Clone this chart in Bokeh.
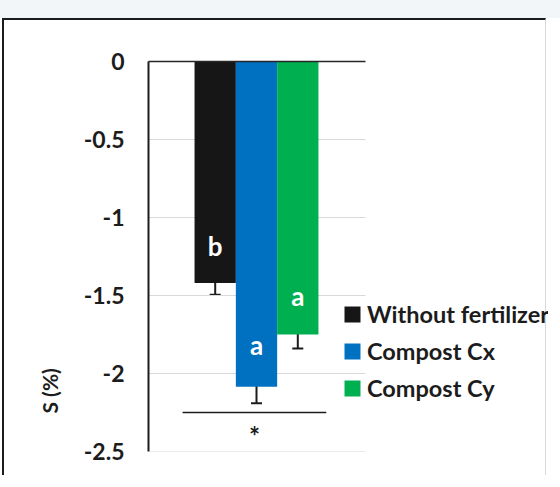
from bokeh.plotting import figure
from bokeh.models import (ColumnDataSource, Range1d, FixedTicker, Whisker, TeeHead,
                          Legend, LegendItem, Title, GlobalInlineStyleSheet)
from bokeh.core.properties import value
from bokeh.embed import file_html
from bokeh.resources import INLINE

# ---- data ----
groups = ["Without fertilizer", "Compost Cx", "Compost Cy"]
means = [-1.42, -2.085, -1.75]
errors = [0.075, 0.105, 0.09]
letters = ["b", "a", "a"]
colors = ["#161616", "#0070c0", "#00b050"]
y_ticks = [0, -0.5, -1, -1.5, -2, -2.5]
y_tick_labels = ["0", "-0.5", "-1", "-1.5", "-2", "-2.5"]
sig_x0 = [-0.79]
sig_x1 = [2.69]
sig_y = [-2.25]
sig_text = ["*"]
y_label = "S (%)"

# plotting-area extent along x (data units): bars sit at 0, 1, 2
x_start, x_plot_end, x_end = -1.615, 3.639, 8.07

FONT = "Lato"
INK = "#1c1c1c"
xs = list(range(len(groups)))

src = ColumnDataSource(dict(
    x=xs, top=[0] * len(xs), bottom=means, color=colors, group=groups,
    upper=[m + e for m, e in zip(means, errors)],
    lower=[m - e for m, e in zip(means, errors)],
    letter=letters,
    ly=[m + e + 0.16 for m, e in zip(means, errors)],
))

p = figure(width=544, height=457, output_backend="svg", toolbar_location=None,
           x_range=Range1d(x_start, x_end), y_range=Range1d(-2.5, 0),
           x_axis_location="above",
           min_border_left=144, min_border_right=0, min_border_top=41,
           min_border_bottom=26)
p.margin = (18, 0, 0, 2)
p.styles = {"border-top": "2px solid #1c1c1c", "border-left": "2px solid #1c1c1c",
            "border-right": "1px solid #d8d8d8", "background-color": "white"}
p.stylesheets = [GlobalInlineStyleSheet(
    css="body{background: linear-gradient(to bottom, #f3f6f9 0px, #f3f6f9 18px, #ffffff 18px);}")]
p.outline_line_color = None
p.background_fill_color = "white"
p.border_fill_color = "white"

# axes
p.xaxis.ticker = FixedTicker(ticks=[])
p.xaxis.bounds = (x_start, x_plot_end)
p.xaxis.major_tick_line_color = None
p.xaxis.minor_tick_line_color = None
p.xaxis.axis_line_color = "#262626"
p.xaxis.axis_line_width = 1.5

p.yaxis.ticker = FixedTicker(ticks=y_ticks)
p.yaxis.major_label_overrides = {t: l for t, l in zip(y_ticks, y_tick_labels)}
p.yaxis.major_tick_line_color = None
p.yaxis.minor_tick_line_color = None
p.yaxis.major_tick_out = 0
p.yaxis.major_label_standoff = 24
p.yaxis.axis_line_color = INK
p.yaxis.axis_line_width = 2
p.yaxis.major_label_text_font = FONT
p.yaxis.major_label_text_font_style = "bold"
p.yaxis.major_label_text_font_size = "23px"
p.yaxis.major_label_text_color = INK

p.xgrid.grid_line_color = None
p.ygrid.grid_line_color = None
# horizontal gridlines limited to the plotting area
p.segment(x0=[x_start] * len(y_ticks), x1=[x_plot_end] * len(y_ticks),
          y0=y_ticks, y1=y_ticks, line_color="#d9d9d9", line_width=1)

bars = p.vbar(x="x", top="top", bottom="bottom", width=1.0, fill_color="color",
              line_color=None, source=src)

w = Whisker(base="x", upper="upper", lower="lower", source=src,
            line_color=INK, line_width=2,
            upper_head=TeeHead(size=11, line_color=INK, line_width=2),
            lower_head=TeeHead(size=11, line_color=INK, line_width=2))
p.add_layout(w)

p.text(x="x", y="ly", text="letter", source=src, text_color="white",
       text_font=value(FONT), text_font_style="bold", text_font_size="26px",
       text_align="center", text_baseline="middle")

p.segment(x0=sig_x0, x1=sig_x1, y0=sig_y, y1=sig_y, line_color=INK, line_width=1.3)
p.text(x=[(a + b) / 2 for a, b in zip(sig_x0, sig_x1)], y=[s - 0.15 for s in sig_y],
       text=sig_text, text_color=INK, text_font=value(FONT),
       text_font_style="bold", text_font_size="26px", text_align="center",
       text_baseline="middle")

p.add_layout(Title(text=y_label, align="left", offset=38, standoff=38,
                   text_font=FONT, text_font_style="bold", text_font_size="21px",
                   text_color=INK), "left")

legend = Legend(items=[LegendItem(label=g, renderers=[bars], index=i) for i, g in enumerate(groups)],
                location=(194, 49), padding=0, margin=0, spacing=9,
                glyph_width=20, glyph_height=20, label_height=20, label_standoff=5,
                border_line_color=None, background_fill_alpha=0,
                label_text_font=FONT, label_text_font_style="bold",
                label_text_font_size="23.5px", label_text_color=INK)
p.add_layout(legend, "center")

open("out.html", "w").write(file_html(p, INLINE))
